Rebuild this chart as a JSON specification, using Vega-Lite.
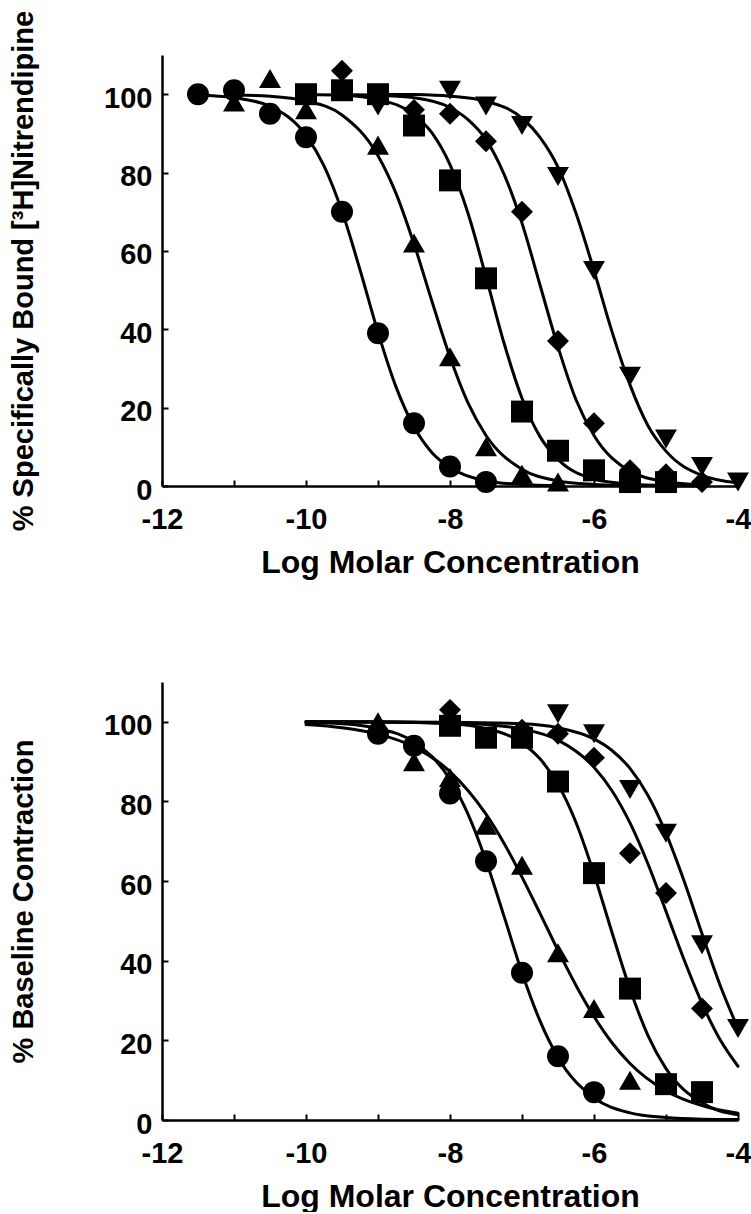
{
  "$schema": "https://vega.github.io/schema/vega-lite/v6.json",
  "background": "white",
  "padding": {"left": 9, "top": 10, "right": 0, "bottom": 0},
  "spacing": 104,
  "config": {
    "view": {"stroke": null},
    "font": "Liberation Sans",
    "axis": {
      "grid": false,
      "domainColor": "black",
      "domainWidth": 2.5,
      "tickColor": "black",
      "tickWidth": 2,
      "tickSize": -6,
      "labelFont": "Liberation Sans",
      "labelFontWeight": "bold",
      "labelFontSize": 29,
      "labelColor": "black",
      "titleFont": "Liberation Sans",
      "titleFontWeight": "bold",
      "titleColor": "black",
      "labelOverlap": false,
      "labelFlush": false
    }
  },
  "datasets": {
    "top_points": [
      {"series": "circle", "logConc": -11.5, "value": 100},
      {"series": "circle", "logConc": -11, "value": 101},
      {"series": "circle", "logConc": -10.5, "value": 95},
      {"series": "circle", "logConc": -10, "value": 89},
      {"series": "circle", "logConc": -9.5, "value": 70},
      {"series": "circle", "logConc": -9, "value": 39},
      {"series": "circle", "logConc": -8.5, "value": 16},
      {"series": "circle", "logConc": -8, "value": 5},
      {"series": "circle", "logConc": -7.5, "value": 1},
      {"series": "triangle", "logConc": -11, "value": 98},
      {"series": "triangle", "logConc": -10.5, "value": 104},
      {"series": "triangle", "logConc": -10, "value": 96},
      {"series": "triangle", "logConc": -9, "value": 87},
      {"series": "triangle", "logConc": -8.5, "value": 62},
      {"series": "triangle", "logConc": -8, "value": 33},
      {"series": "triangle", "logConc": -7.5, "value": 10},
      {"series": "triangle", "logConc": -7, "value": 3},
      {"series": "triangle", "logConc": -6.5, "value": 1},
      {"series": "square", "logConc": -10, "value": 100},
      {"series": "square", "logConc": -9.5, "value": 101},
      {"series": "square", "logConc": -9, "value": 100},
      {"series": "square", "logConc": -8.5, "value": 92},
      {"series": "square", "logConc": -8, "value": 78},
      {"series": "square", "logConc": -7.5, "value": 53},
      {"series": "square", "logConc": -7, "value": 19},
      {"series": "square", "logConc": -6.5, "value": 9},
      {"series": "square", "logConc": -6, "value": 4},
      {"series": "square", "logConc": -5.5, "value": 1},
      {"series": "square", "logConc": -5, "value": 1},
      {"series": "diamond", "logConc": -9.5, "value": 106},
      {"series": "diamond", "logConc": -8.5, "value": 96},
      {"series": "diamond", "logConc": -8, "value": 95},
      {"series": "diamond", "logConc": -7.5, "value": 88},
      {"series": "diamond", "logConc": -7, "value": 70},
      {"series": "diamond", "logConc": -6.5, "value": 37},
      {"series": "diamond", "logConc": -6, "value": 16},
      {"series": "diamond", "logConc": -5.5, "value": 4},
      {"series": "diamond", "logConc": -5, "value": 3},
      {"series": "diamond", "logConc": -4.5, "value": 1},
      {"series": "invtriangle", "logConc": -9, "value": 97},
      {"series": "invtriangle", "logConc": -8, "value": 101},
      {"series": "invtriangle", "logConc": -7.5, "value": 97},
      {"series": "invtriangle", "logConc": -7, "value": 92},
      {"series": "invtriangle", "logConc": -6.5, "value": 79},
      {"series": "invtriangle", "logConc": -6, "value": 55},
      {"series": "invtriangle", "logConc": -5.5, "value": 28},
      {"series": "invtriangle", "logConc": -5, "value": 12},
      {"series": "invtriangle", "logConc": -4.5, "value": 5},
      {"series": "invtriangle", "logConc": -4, "value": 1}
    ],
    "top_curves": [
      {"series": "circle", "logConc": -11.5, "value": 99.8},
      {"series": "circle", "logConc": -11, "value": 99.1},
      {"series": "circle", "logConc": -10.5, "value": 96.9},
      {"series": "circle", "logConc": -10, "value": 89.5},
      {"series": "circle", "logConc": -9.75, "value": 81.7},
      {"series": "circle", "logConc": -9.5, "value": 70.1},
      {"series": "circle", "logConc": -9.25, "value": 55.2},
      {"series": "circle", "logConc": -9, "value": 39.2},
      {"series": "circle", "logConc": -8.75, "value": 25.3},
      {"series": "circle", "logConc": -8.5, "value": 15.1},
      {"series": "circle", "logConc": -8.25, "value": 8.5},
      {"series": "circle", "logConc": -8, "value": 4.7},
      {"series": "circle", "logConc": -7.5, "value": 1.3},
      {"series": "circle", "logConc": -7, "value": 0.4},
      {"series": "circle", "logConc": -6.5, "value": 0.1},
      {"series": "triangle", "logConc": -11, "value": 99.8},
      {"series": "triangle", "logConc": -10.5, "value": 99.5},
      {"series": "triangle", "logConc": -10, "value": 98.3},
      {"series": "triangle", "logConc": -9.5, "value": 94.7},
      {"series": "triangle", "logConc": -9, "value": 84.3},
      {"series": "triangle", "logConc": -8.75, "value": 74.7},
      {"series": "triangle", "logConc": -8.5, "value": 61.8},
      {"series": "triangle", "logConc": -8.25, "value": 47.1},
      {"series": "triangle", "logConc": -8, "value": 32.9},
      {"series": "triangle", "logConc": -7.75, "value": 21.2},
      {"series": "triangle", "logConc": -7.5, "value": 12.9},
      {"series": "triangle", "logConc": -7, "value": 4.3},
      {"series": "triangle", "logConc": -6.5, "value": 1.3},
      {"series": "triangle", "logConc": -6, "value": 0.4},
      {"series": "triangle", "logConc": -5.5, "value": 0.1},
      {"series": "square", "logConc": -10, "value": 99.9},
      {"series": "square", "logConc": -9.5, "value": 99.7},
      {"series": "square", "logConc": -9, "value": 98.6},
      {"series": "square", "logConc": -8.5, "value": 94.8},
      {"series": "square", "logConc": -8.25, "value": 90.1},
      {"series": "square", "logConc": -8, "value": 82.0},
      {"series": "square", "logConc": -7.75, "value": 69.6},
      {"series": "square", "logConc": -7.5, "value": 53.4},
      {"series": "square", "logConc": -7.25, "value": 36.5},
      {"series": "square", "logConc": -7, "value": 22.4},
      {"series": "square", "logConc": -6.75, "value": 12.6},
      {"series": "square", "logConc": -6.5, "value": 6.8},
      {"series": "square", "logConc": -6, "value": 1.8},
      {"series": "square", "logConc": -5.5, "value": 0.5},
      {"series": "square", "logConc": -5, "value": 0.1},
      {"series": "square", "logConc": -4.5, "value": 0},
      {"series": "diamond", "logConc": -9.5, "value": 99.9},
      {"series": "diamond", "logConc": -9, "value": 99.7},
      {"series": "diamond", "logConc": -8.5, "value": 99.1},
      {"series": "diamond", "logConc": -8, "value": 96.6},
      {"series": "diamond", "logConc": -7.75, "value": 93.5},
      {"series": "diamond", "logConc": -7.5, "value": 88.4},
      {"series": "diamond", "logConc": -7.25, "value": 79.6},
      {"series": "diamond", "logConc": -7, "value": 67.1},
      {"series": "diamond", "logConc": -6.75, "value": 51.3},
      {"series": "diamond", "logConc": -6.5, "value": 35.5},
      {"series": "diamond", "logConc": -6.25, "value": 22.0},
      {"series": "diamond", "logConc": -6, "value": 12.9},
      {"series": "diamond", "logConc": -5.5, "value": 3.8},
      {"series": "diamond", "logConc": -5, "value": 1.1},
      {"series": "diamond", "logConc": -4.5, "value": 0.3},
      {"series": "invtriangle", "logConc": -9, "value": 100},
      {"series": "invtriangle", "logConc": -8.5, "value": 99.9},
      {"series": "invtriangle", "logConc": -8, "value": 99.5},
      {"series": "invtriangle", "logConc": -7.5, "value": 98.2},
      {"series": "invtriangle", "logConc": -7, "value": 93.9},
      {"series": "invtriangle", "logConc": -6.75, "value": 89.0},
      {"series": "invtriangle", "logConc": -6.5, "value": 81.4},
      {"series": "invtriangle", "logConc": -6.25, "value": 69.6},
      {"series": "invtriangle", "logConc": -6, "value": 55.0},
      {"series": "invtriangle", "logConc": -5.75, "value": 39.4},
      {"series": "invtriangle", "logConc": -5.5, "value": 25.8},
      {"series": "invtriangle", "logConc": -5.25, "value": 15.4},
      {"series": "invtriangle", "logConc": -5, "value": 8.9},
      {"series": "invtriangle", "logConc": -4.5, "value": 2.7},
      {"series": "invtriangle", "logConc": -4, "value": 0.8}
    ],
    "bottom_points": [
      {"series": "circle", "logConc": -9, "value": 97},
      {"series": "circle", "logConc": -8.5, "value": 94},
      {"series": "circle", "logConc": -8, "value": 82},
      {"series": "circle", "logConc": -7.5, "value": 65},
      {"series": "circle", "logConc": -7, "value": 37},
      {"series": "circle", "logConc": -6.5, "value": 16},
      {"series": "circle", "logConc": -6, "value": 7},
      {"series": "triangle", "logConc": -9, "value": 100},
      {"series": "triangle", "logConc": -8.5, "value": 90},
      {"series": "triangle", "logConc": -8, "value": 86},
      {"series": "triangle", "logConc": -7.5, "value": 74},
      {"series": "triangle", "logConc": -7, "value": 64},
      {"series": "triangle", "logConc": -6.5, "value": 42},
      {"series": "triangle", "logConc": -6, "value": 28},
      {"series": "triangle", "logConc": -5.5, "value": 10},
      {"series": "square", "logConc": -8, "value": 99},
      {"series": "square", "logConc": -7.5, "value": 96},
      {"series": "square", "logConc": -7, "value": 96},
      {"series": "square", "logConc": -6.5, "value": 85},
      {"series": "square", "logConc": -6, "value": 62},
      {"series": "square", "logConc": -5.5, "value": 33},
      {"series": "square", "logConc": -5, "value": 9},
      {"series": "square", "logConc": -4.5, "value": 7},
      {"series": "diamond", "logConc": -8, "value": 103},
      {"series": "diamond", "logConc": -7, "value": 98},
      {"series": "diamond", "logConc": -6.5, "value": 97},
      {"series": "diamond", "logConc": -6, "value": 91},
      {"series": "diamond", "logConc": -5.5, "value": 67},
      {"series": "diamond", "logConc": -5, "value": 57},
      {"series": "diamond", "logConc": -4.5, "value": 28},
      {"series": "invtriangle", "logConc": -6.5, "value": 102},
      {"series": "invtriangle", "logConc": -6, "value": 97},
      {"series": "invtriangle", "logConc": -5.5, "value": 83},
      {"series": "invtriangle", "logConc": -5, "value": 72},
      {"series": "invtriangle", "logConc": -4.5, "value": 44},
      {"series": "invtriangle", "logConc": -4, "value": 23}
    ],
    "bottom_curves": [
      {"series": "circle", "logConc": -10, "value": 99.8},
      {"series": "circle", "logConc": -9.5, "value": 99.5},
      {"series": "circle", "logConc": -9, "value": 98.3},
      {"series": "circle", "logConc": -8.5, "value": 94.9},
      {"series": "circle", "logConc": -8, "value": 85.5},
      {"series": "circle", "logConc": -7.75, "value": 76.8},
      {"series": "circle", "logConc": -7.5, "value": 65.1},
      {"series": "circle", "logConc": -7.25, "value": 51.2},
      {"series": "circle", "logConc": -7, "value": 37.0},
      {"series": "circle", "logConc": -6.75, "value": 24.9},
      {"series": "circle", "logConc": -6.5, "value": 15.7},
      {"series": "circle", "logConc": -6, "value": 5.6},
      {"series": "circle", "logConc": -5.5, "value": 1.8},
      {"series": "circle", "logConc": -5, "value": 0.6},
      {"series": "circle", "logConc": -4.5, "value": 0.2},
      {"series": "circle", "logConc": -4, "value": 0.1},
      {"series": "triangle", "logConc": -10, "value": 99.3},
      {"series": "triangle", "logConc": -9.5, "value": 98.5},
      {"series": "triangle", "logConc": -9, "value": 96.9},
      {"series": "triangle", "logConc": -8.5, "value": 93.7},
      {"series": "triangle", "logConc": -8, "value": 87.5},
      {"series": "triangle", "logConc": -7.5, "value": 76.8},
      {"series": "triangle", "logConc": -7.25, "value": 69.5},
      {"series": "triangle", "logConc": -7, "value": 61.0},
      {"series": "triangle", "logConc": -6.75, "value": 51.9},
      {"series": "triangle", "logConc": -6.5, "value": 42.6},
      {"series": "triangle", "logConc": -6.25, "value": 33.8},
      {"series": "triangle", "logConc": -6, "value": 26.0},
      {"series": "triangle", "logConc": -5.75, "value": 19.4},
      {"series": "triangle", "logConc": -5.5, "value": 14.2},
      {"series": "triangle", "logConc": -5, "value": 7.3},
      {"series": "triangle", "logConc": -4.5, "value": 3.6},
      {"series": "triangle", "logConc": -4, "value": 1.7},
      {"series": "square", "logConc": -10, "value": 100},
      {"series": "square", "logConc": -9, "value": 100},
      {"series": "square", "logConc": -8, "value": 99.5},
      {"series": "square", "logConc": -7.5, "value": 98.3},
      {"series": "square", "logConc": -7, "value": 94.7},
      {"series": "square", "logConc": -6.75, "value": 90.7},
      {"series": "square", "logConc": -6.5, "value": 84.3},
      {"series": "square", "logConc": -6.25, "value": 74.7},
      {"series": "square", "logConc": -6, "value": 61.8},
      {"series": "square", "logConc": -5.75, "value": 47.1},
      {"series": "square", "logConc": -5.5, "value": 32.9},
      {"series": "square", "logConc": -5.25, "value": 21.2},
      {"series": "square", "logConc": -5, "value": 12.9},
      {"series": "square", "logConc": -4.5, "value": 4.3},
      {"series": "square", "logConc": -4, "value": 1.3},
      {"series": "diamond", "logConc": -10, "value": 100},
      {"series": "diamond", "logConc": -9, "value": 99.9},
      {"series": "diamond", "logConc": -8, "value": 99.7},
      {"series": "diamond", "logConc": -7.5, "value": 99.3},
      {"series": "diamond", "logConc": -7, "value": 98.2},
      {"series": "diamond", "logConc": -6.5, "value": 95.4},
      {"series": "diamond", "logConc": -6, "value": 88.6},
      {"series": "diamond", "logConc": -5.75, "value": 82.7},
      {"series": "diamond", "logConc": -5.5, "value": 74.6},
      {"series": "diamond", "logConc": -5.25, "value": 64.3},
      {"series": "diamond", "logConc": -5, "value": 52.4},
      {"series": "diamond", "logConc": -4.75, "value": 40.3},
      {"series": "diamond", "logConc": -4.5, "value": 29.3},
      {"series": "diamond", "logConc": -4.25, "value": 20.2},
      {"series": "diamond", "logConc": -4, "value": 13.5},
      {"series": "invtriangle", "logConc": -10, "value": 100},
      {"series": "invtriangle", "logConc": -8, "value": 99.9},
      {"series": "invtriangle", "logConc": -7, "value": 99.5},
      {"series": "invtriangle", "logConc": -6.5, "value": 98.5},
      {"series": "invtriangle", "logConc": -6, "value": 95.7},
      {"series": "invtriangle", "logConc": -5.75, "value": 92.8},
      {"series": "invtriangle", "logConc": -5.5, "value": 88.3},
      {"series": "invtriangle", "logConc": -5.25, "value": 81.5},
      {"series": "invtriangle", "logConc": -5, "value": 72.0},
      {"series": "invtriangle", "logConc": -4.75, "value": 60.1},
      {"series": "invtriangle", "logConc": -4.5, "value": 46.8},
      {"series": "invtriangle", "logConc": -4.25, "value": 33.9},
      {"series": "invtriangle", "logConc": -4, "value": 23.0}
    ]
  },
  "vconcat": [
    {
      "width": 576,
      "height": 431,
      "layer": [
        {
          "data": {"name": "top_curves"},
          "mark": {"type": "line", "color": "black", "strokeWidth": 3, "interpolate": "monotone"},
          "encoding": {
            "x": {"field": "logConc", "type": "quantitative",
              "scale": {"domain": [-12, -4], "nice": false, "zero": false},
              "axis": {"title": "Log Molar Concentration", "titleFontSize": 32, "titlePadding": 13, "labelPadding": 25,
                "values": [-12, -11, -10, -9, -8, -7, -6, -5, -4],
                "labelExpr": "datum.value % 2 == 0 ? '-' + abs(datum.value) : ''"}},
            "y": {"field": "value", "type": "quantitative",
              "scale": {"domain": [0, 110], "nice": false},
              "axis": {"title": "% Specifically Bound [³H]Nitrendipine", "titleFontSize": 29, "titlePadding": 65, "labelPadding": 16, "labelOffset": 4,
                "values": [0, 10, 20, 30, 40, 50, 60, 70, 80, 90, 100, 110],
                "labelExpr": "datum.value % 20 == 0 && datum.value <= 100 ? datum.label : ''"}},
            "detail": {"field": "series", "type": "nominal"}
          }
        },
        {
          "data": {"name": "top_points"},
          "mark": {"type": "point", "filled": true, "color": "black", "opacity": 1},
          "encoding": {
            "x": {"field": "logConc", "type": "quantitative"},
            "y": {"field": "value", "type": "quantitative"},
            "shape": {"field": "series", "type": "nominal", "legend": null,
              "scale": {"domain": ["circle", "triangle", "square", "diamond", "invtriangle"], "range": ["circle", "triangle-up", "square", "diamond", "triangle-down"]}},
            "size": {"field": "series", "type": "ordinal", "legend": null,
              "scale": {"domain": ["circle", "triangle", "square", "diamond", "invtriangle"], "range": [484, 480, 520, 840, 480]}}
          }
        }
      ]
    },
    {
      "width": 576,
      "height": 438,
      "layer": [
        {
          "data": {"name": "bottom_curves"},
          "mark": {"type": "line", "color": "black", "strokeWidth": 3, "interpolate": "monotone", "strokeCap": "round"},
          "encoding": {
            "x": {"field": "logConc", "type": "quantitative",
              "scale": {"domain": [-12, -4], "nice": false, "zero": false},
              "axis": {"title": "Log Molar Concentration", "titleFontSize": 32, "titlePadding": 13, "labelPadding": 25,
                "values": [-12, -11, -10, -9, -8, -7, -6, -5, -4],
                "labelExpr": "datum.value % 2 == 0 ? '-' + abs(datum.value) : ''"}},
            "y": {"field": "value", "type": "quantitative",
              "scale": {"domain": [0, 110], "nice": false},
              "axis": {"title": "% Baseline Contraction", "titleFontSize": 29, "titlePadding": 65, "labelPadding": 16, "labelOffset": 4,
                "values": [0, 10, 20, 30, 40, 50, 60, 70, 80, 90, 100, 110],
                "labelExpr": "datum.value % 20 == 0 && datum.value <= 100 ? datum.label : ''"}},
            "detail": {"field": "series", "type": "nominal"}
          }
        },
        {
          "data": {"name": "bottom_points"},
          "mark": {"type": "point", "filled": true, "color": "black", "opacity": 1},
          "encoding": {
            "x": {"field": "logConc", "type": "quantitative"},
            "y": {"field": "value", "type": "quantitative"},
            "shape": {"field": "series", "type": "nominal", "legend": null,
              "scale": {"domain": ["circle", "triangle", "square", "diamond", "invtriangle"], "range": ["circle", "triangle-up", "square", "diamond", "triangle-down"]}},
            "size": {"field": "series", "type": "ordinal", "legend": null,
              "scale": {"domain": ["circle", "triangle", "square", "diamond", "invtriangle"], "range": [484, 480, 520, 840, 480]}}
          }
        }
      ]
    }
  ]
}
